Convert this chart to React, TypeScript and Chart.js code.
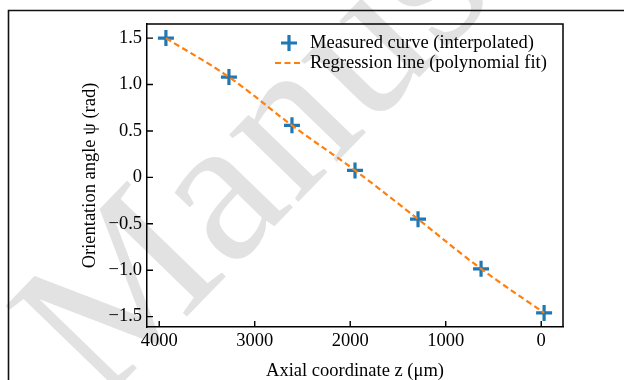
import { useEffect, useRef } from "react";
import { Chart, registerables } from "chart.js";

Chart.register(...registerables);

// ---- data ----
const Z_UM = [3930, 3270, 2610, 1950, 1290, 630, -30];
const PSI_MEASURED = [1.5, 1.08, 0.56, 0.075, -0.45, -0.985, -1.46];
const PSI_FIT = [1.5, 1.08, 0.56, 0.075, -0.45, -0.985, -1.46];
const X_TICKS = [4000, 3000, 2000, 1000, 0];
const X_TICK_LABELS = ["4000", "3000", "2000", "1000", "0"];
const Y_TICKS = [1.5, 1.0, 0.5, 0, -0.5, -1.0, -1.5];
const Y_TICK_LABELS = ["1.5", "1.0", "0.5", "0", "\u22120.5", "\u22121.0", "\u22121.5"];
const SERIES_LABELS = ["Measured curve (interpolated)", "Regression line (polynomial fit)"];
const X_TITLE = "Axial coordinate z (\u03bcm)";
const Y_TITLE = "Orientation angle \u03c8 (rad)";
const WATERMARK = "Manuscript";

const BLUE = "#1f77b4";
const ORANGE = "#ff7f0e";
const FONT = '"Liberation Serif", "Times New Roman", serif';
const FS = 18.5;

const decorPlugin = {
  id: "decor",
  beforeDraw(chart: any) {
    const { ctx, width, height } = chart;
    ctx.save();
    ctx.fillStyle = "#ffffff";
    ctx.fillRect(0, 0, width, height);
    // watermark
    ctx.translate(100, 406);
    ctx.rotate(-0.8);
    ctx.font = `210px ${FONT}`;
    ctx.fillStyle = "#e2e2e2";
    ctx.textBaseline = "alphabetic";
    ctx.fillText(WATERMARK, 0, 0);
    ctx.restore();
    // outer frame
    ctx.save();
    ctx.strokeStyle = "#111";
    ctx.lineWidth = 1.6;
    ctx.beginPath();
    ctx.moveTo(8.5, height);
    ctx.lineTo(8.5, 10.5);
    ctx.lineTo(width, 10.5);
    ctx.stroke();
    ctx.restore();
  },
  afterDraw(chart: any) {
    const { ctx, chartArea } = chart;
    const { left, right, top, bottom } = chartArea;
    const xs = chart.scales.x;
    const ys = chart.scales.y;
    ctx.save();
    ctx.strokeStyle = "#000";
    ctx.lineWidth = 1.5;
    // top & right spines
    ctx.beginPath();
    ctx.moveTo(left, top);
    ctx.lineTo(right, top);
    ctx.lineTo(right, bottom);
    ctx.stroke();
    // inward ticks
    ctx.lineWidth = 1.4;
    ctx.beginPath();
    X_TICKS.forEach((v) => {
      const px = xs.getPixelForValue(v);
      ctx.moveTo(px, bottom);
      ctx.lineTo(px, bottom - 6);
    });
    Y_TICKS.forEach((v) => {
      const py = ys.getPixelForValue(v);
      ctx.moveTo(left, py);
      ctx.lineTo(left + 6, py);
    });
    ctx.stroke();
    // legend
    const lx = 289;
    const ly1 = 43;
    const ly2 = 63;
    ctx.strokeStyle = BLUE;
    ctx.lineWidth = 3.2;
    ctx.beginPath();
    ctx.moveTo(lx - 8, ly1);
    ctx.lineTo(lx + 8, ly1);
    ctx.moveTo(lx, ly1 - 8);
    ctx.lineTo(lx, ly1 + 8);
    ctx.stroke();
    ctx.strokeStyle = ORANGE;
    ctx.lineWidth = 2.2;
    ctx.setLineDash([6, 3.5]);
    ctx.beginPath();
    ctx.moveTo(275, ly2);
    ctx.lineTo(303, ly2);
    ctx.stroke();
    ctx.setLineDash([]);
    ctx.fillStyle = "#000";
    ctx.font = `${FS}px ${FONT}`;
    ctx.textBaseline = "middle";
    ctx.textAlign = "left";
    ctx.fillText(SERIES_LABELS[0], 310, ly1);
    ctx.fillText(SERIES_LABELS[1], 310, ly2);
    ctx.restore();
  },
};

export default function App() {
  const ref = useRef<HTMLCanvasElement | null>(null);
  useEffect(() => {
    if (!ref.current) return;
    const measured = Z_UM.map((z, i) => ({ x: z, y: PSI_MEASURED[i] }));
    const fit = Z_UM.map((z, i) => ({ x: z, y: PSI_FIT[i] }));
    const chart = new Chart(ref.current, {
      type: "scatter",
      data: {
        datasets: [
          {
            label: SERIES_LABELS[1],
            data: fit,
            showLine: true,
            borderColor: ORANGE,
            borderWidth: 2.2,
            borderDash: [6, 3.5],
            pointRadius: 0,
            tension: 0.4,
            order: 0,
          } as any,
          {
            label: SERIES_LABELS[0],
            data: measured,
            showLine: false,
            pointStyle: "cross",
            pointRadius: 8,
            pointBorderWidth: 3.2,
            borderColor: BLUE,
            backgroundColor: BLUE,
            order: 1,
          } as any,
        ],
      },
      options: {
        animation: false,
        responsive: false,
        devicePixelRatio: 1,
        layout: { padding: { left: 70, top: 24, right: 61, bottom: 0 } },
        plugins: { legend: { display: false }, tooltip: { enabled: false } },
        scales: {
          x: {
            type: "linear",
            reverse: true,
            min: -228,
            max: 4128,
            grid: { display: false, drawTicks: false, tickLength: 0 },
            border: { display: true, color: "#000", width: 1.5 },
            afterBuildTicks: (s: any) => {
              s.ticks = X_TICKS.map((v) => ({ value: v }));
            },
            afterFit: (s: any) => {
              s.height = 53;
            },
            ticks: {
              padding: 3,
              color: "#000",
              font: { family: FONT, size: FS },
              maxRotation: 0,
              callback: (v: any) => X_TICK_LABELS[X_TICKS.indexOf(Number(v))] ?? "",
            },
            title: {
              display: true,
              text: X_TITLE,
              color: "#000",
              font: { family: FONT, size: FS },
              padding: { top: 0, bottom: -2 },
            },
          },
          y: {
            type: "linear",
            min: -1.612,
            max: 1.652,
            grid: { display: false, drawTicks: false, tickLength: 0 },
            border: { display: true, color: "#000", width: 1.5, dash: [7, 3.5] },
            afterBuildTicks: (s: any) => {
              s.ticks = Y_TICKS.map((v) => ({ value: v }));
            },
            afterFit: (s: any) => {
              s.width = 77;
            },
            ticks: {
              padding: 5,
              color: "#000",
              font: { family: FONT, size: FS },
              callback: (v: any) => Y_TICK_LABELS[Y_TICKS.indexOf(Number(v))] ?? "",
            },
            title: {
              display: true,
              text: Y_TITLE,
              color: "#000",
              font: { family: FONT, size: FS },
              padding: { top: 9, bottom: 0 },
            },
          },
        },
      },
      plugins: [decorPlugin],
    });
    return () => chart.destroy();
  }, []);
  return (
    <div style={{ position: "fixed", left: 0, top: 0, width: 624, height: 380 }}>
      <canvas ref={ref} width={624} height={380} style={{ display: "block" }} />
    </div>
  );
}
